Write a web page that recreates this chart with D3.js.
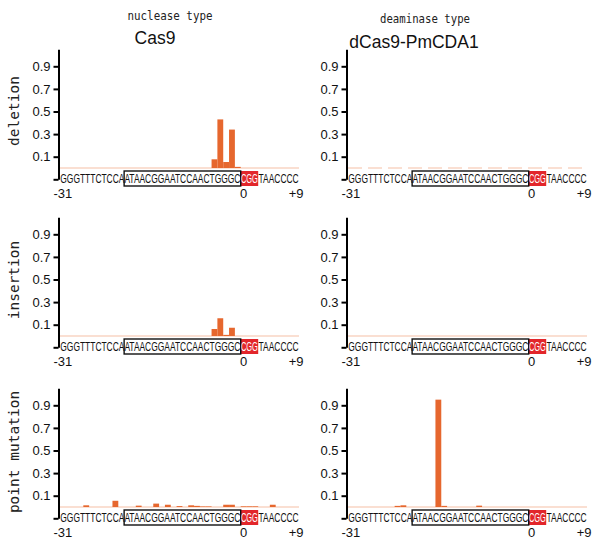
<!DOCTYPE html>
<html>
<head>
<meta charset="utf-8">
<script src="https://cdn.jsdelivr.net/npm/d3@7"></script>
<style>
  body { margin: 0; background: #fff; }
  svg { display: block; }
</style>
</head>
<body>
<div class="chart"></div>
<script>
// target sequence, -31 .. +9 (PAM = CGG at 0..+2)
var bases = "GGGTTTCTCCAATAACGGAATCCAACTGGGCCGGTAACCCC".split("");
var positions = bases.map(function(b, i) { return i - 31; });
var boxStart = -20, boxEnd = -1;   // 20-nt protospacer
var pamStart = 0, pamEnd = 2;

var yTicks = [-0.1, 0.1, 0.3, 0.5, 0.7, 0.9];
var xTicks = [-31, 0, 9];
var xTickLabels = ["-31", "0", "+9"];

var rowLabels = ["deletion", "insertion", "point mutation"];
var colTypes = ["nuclease type", "deaminase type"];
var colNames = ["Cas9", "dCas9-PmCDA1"];

// [position, frequency]
var cas9Deletion = [[-5, 0.077], [-4, 0.43], [-3, 0.053], [-2, 0.34], [-1, 0.01]];
var cas9Insertion = [[-5, 0.062], [-4, 0.157], [-3, 0.01], [-2, 0.073]];
var cas9Point = [[-27, 0.015], [-22, 0.055], [-18, 0.012], [-15, 0.03], [-13, 0.02],
                 [-11, 0.008], [-9, 0.015], [-8, 0.01], [-7, 0.005], [-6, 0.005],
                 [-3, 0.02], [-2, 0.02], [0, 0.006], [1, 0.006], [2, 0.006], [5, 0.02]];
var pmcdaDeletion = [];
var pmcdaInsertion = [];
var pmcdaPoint = [[-23, 0.01], [-22, 0.015], [-16, 0.95], [-15, 0.01], [-9, 0.012]];

var panelData = [
  [cas9Deletion, pmcdaDeletion],
  [cas9Insertion, pmcdaInsertion],
  [cas9Point, pmcdaPoint]
];

var svgWidth = 593, svgHeight = 540;
var colX = [60, 348];          // left edge of the sequence
var rowZero = [168, 336, 507]; // y of value 0
var plotW = 239;
var unit = 113;

var svg = d3.select(".chart").append("svg")
  .attr("width", svgWidth)
  .attr("height", svgHeight);

var x = d3.scaleBand().domain(positions).range([0, plotW]).padding(0);
var bw = x.bandwidth();

// sequence split in segments: plain / PAM / plain
var segments = [
  { from: -31, to: -1, color: "#111" },
  { from: pamStart, to: pamEnd, color: "#fff" },
  { from: 3, to: 9, color: "#111" }
];

// column headers
var headType = [[170, 20], [425, 23]];
var headTypeW = [85, 90];
var headName = [[155, 44], [414, 48]];
colTypes.forEach(function(t, c) {
  svg.append("text")
    .attr("x", headType[c][0] - headTypeW[c] / 2).attr("y", headType[c][1])
    .attr("textLength", headTypeW[c])
    .attr("lengthAdjust", "spacingAndGlyphs")
    .style("font-family", "DejaVu Sans Mono, monospace")
    .style("font-size", "13px")
    .style("fill", "#222")
    .text(t);
  svg.append("text")
    .attr("x", headName[c][0]).attr("y", headName[c][1])
    .attr("text-anchor", "middle")
    .style("font-family", "Liberation Sans, Arial, sans-serif")
    .style("font-size", "17.5px")
    .style("fill", "#111")
    .text(colNames[c]);
});

// row labels
var rowLabelY = [111, 280, 452];
rowLabels.forEach(function(l, r) {
  svg.append("text")
    .attr("transform", "translate(19," + rowLabelY[r] + ") rotate(-90)")
    .attr("text-anchor", "middle")
    .style("font-family", "DejaVu Sans Mono, monospace")
    .style("font-size", "14.5px")
    .style("fill", "#222")
    .text(l);
});

rowZero.forEach(function(z, r) {
  colX.forEach(function(cx, c) {
    var y = d3.scaleLinear()
      .domain([-0.1, 1.05])
      .range([z + 0.1 * unit, z - 1.05 * unit]);

    var g = svg.append("g").attr("transform", "translate(" + cx + ",0)");

    // faint zero line
    g.append("line")
      .attr("x1", 0).attr("x2", plotW)
      .attr("y1", y(0)).attr("y2", y(0))
      .attr("stroke", "#f6bfa5")
      .attr("stroke-width", 1.2)
      .attr("stroke-dasharray", c === 1 && r === 0 ? "14,6" : null);

    // bars
    g.selectAll("rect.bar")
      .data(panelData[r][c])
      .enter()
      .append("rect")
      .attr("class", "bar")
      .attr("x", function(d) { return x(d[0]); })
      .attr("width", bw)
      .attr("y", function(d) { return y(d[1]); })
      .attr("height", function(d) { return y(0) - y(d[1]); })
      .attr("fill", "#e6672e");

    // y axis
    var yAxis = d3.axisLeft(y)
      .tickValues(yTicks)
      .tickSize(5)
      .tickSizeOuter(0)
      .tickPadding(3)
      .tickFormat(function(d) { return d < 0 ? "" : d3.format(".1f")(d); });

    var ag = g.append("g")
      .attr("transform", "translate(-1.5,0)")
      .call(yAxis);
    ag.select(".domain").attr("stroke", "#000").attr("stroke-width", 2);
    ag.selectAll(".tick line").attr("stroke", "#000").attr("stroke-width", 2);
    ag.selectAll(".tick text")
      .style("font-family", "Liberation Sans, Arial, sans-serif")
      .style("font-size", "13px")
      .style("fill", "#111");

    // PAM highlight
    g.append("rect")
      .attr("x", x(pamStart))
      .attr("width", x(pamEnd) + bw - x(pamStart))
      .attr("y", z + 3)
      .attr("height", 15)
      .attr("fill", "#e2262b");

    // protospacer box
    g.append("rect")
      .attr("x", x(boxStart))
      .attr("width", x(boxEnd) + bw - x(boxStart))
      .attr("y", z + 3)
      .attr("height", 15)
      .attr("fill", "none")
      .attr("stroke", "#111")
      .attr("stroke-width", 1.4);

    // sequence
    g.selectAll("text.seq")
      .data(segments)
      .enter()
      .append("text")
      .attr("class", "seq")
      .attr("x", function(d) { return x(d.from) + 0.3; })
      .attr("y", z + 15.3)
      .attr("textLength", function(d) { return x(d.to) + bw - x(d.from) - 0.6; })
      .attr("lengthAdjust", "spacingAndGlyphs")
      .style("font-family", "Liberation Sans, Arial, sans-serif")
      .style("font-size", "12.5px")
      .style("fill", function(d) { return d.color; })
      .text(function(d) {
        return bases.slice(positions.indexOf(d.from), positions.indexOf(d.to) + 1).join("");
      });

    // position labels
    g.selectAll("text.pos")
      .data(xTicks)
      .enter()
      .append("text")
      .attr("class", "pos")
      .attr("x", function(d) { return x(d) + bw / 2; })
      .attr("y", z + 29.5)
      .attr("text-anchor", "middle")
      .style("font-family", "Liberation Sans, Arial, sans-serif")
      .style("font-size", "13px")
      .style("fill", "#111")
      .text(function(d, i) { return xTickLabels[i]; });
  });
});
</script>
</body>
</html>
